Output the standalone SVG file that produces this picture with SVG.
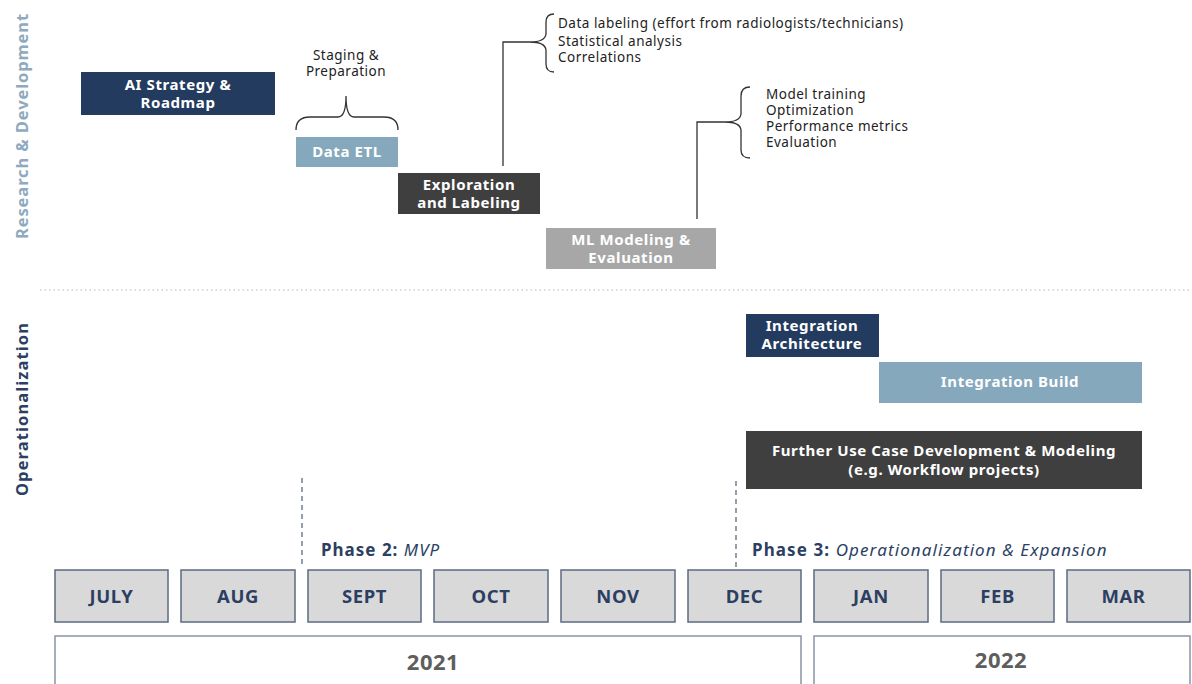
<svg xmlns="http://www.w3.org/2000/svg" width="1192" height="684" viewBox="0 0 1192 684">
<style>
.t{font-family:"Noto Sans","Open Sans",sans-serif}
.bw{font-family:"Noto Sans",sans-serif;font-weight:700;fill:#fff;font-size:15px;letter-spacing:0.6px;text-anchor:middle}
.note{font-family:"Noto Sans",sans-serif;font-size:13.5px;letter-spacing:0.5px;fill:#222}
.mon rect{fill:#d9d9d9;stroke:#5b6b82;stroke-width:1.5}
.mon text{font-family:"Noto Sans",sans-serif;font-weight:700;font-size:18.5px;letter-spacing:0.6px;fill:#2c3f63;text-anchor:middle}
.yr rect{fill:#fff;stroke:#8a94a3;stroke-width:1.5}
.yr text{font-family:"Noto Sans",sans-serif;font-weight:700;font-size:22px;letter-spacing:0.5px;fill:#5e5e5e;text-anchor:middle}
.navy{fill:#243b60}
.lblue{fill:#86a8bd}
.dgray{fill:#3f3f3f}
.mgray{fill:#a7a7a7}
.br{fill:none;stroke:#333;stroke-width:1.3}
</style>
<rect width="1192" height="684" fill="#fff"/>
<text class="t" transform="translate(28,126) rotate(-90)" text-anchor="middle" font-size="16.5" letter-spacing="0.9" font-weight="700" fill="#8fa9bf">Research &amp; Development</text>
<text class="t" transform="translate(28,409) rotate(-90)" text-anchor="middle" font-size="16.5" letter-spacing="1.1" font-weight="700" fill="#2c3f63">Operationalization</text>
<line x1="40" y1="290" x2="1192" y2="290" stroke="#b8b8b8" stroke-width="1.2" stroke-dasharray="1.5,3"/>
<g id="ai-strategy"><rect class="navy" x="81" y="72" width="194" height="43"/><text class="bw" x="178" y="90">AI Strategy &amp;</text><text class="bw" x="178" y="108">Roadmap</text></g>
<g id="staging"><text class="note" x="346" y="60" text-anchor="middle">Staging &amp;</text><text class="note" x="346" y="76" text-anchor="middle">Preparation</text></g>
<g id="data-etl"><rect class="lblue" x="296" y="137" width="102" height="30"/><text class="bw" x="347" y="157">Data ETL</text></g>
<g id="exploration"><rect class="dgray" x="398" y="173" width="142" height="41"/><text class="bw" x="469" y="190">Exploration</text><text class="bw" x="469" y="208">and Labeling</text></g>
<g id="ml-modeling"><rect class="mgray" x="546" y="228" width="170" height="41"/><text class="bw" x="631" y="245">ML Modeling &amp;</text><text class="bw" x="631" y="263">Evaluation</text></g>
<g id="expl-notes"><text class="note" x="558" y="28">Data labeling (effort from radiologists/technicians)</text><text class="note" x="558" y="46">Statistical analysis</text><text class="note" x="558" y="62">Correlations</text></g>
<g id="ml-notes"><text class="note" x="766" y="99">Model training</text><text class="note" x="766" y="115">Optimization</text><text class="note" x="766" y="131">Performance metrics</text><text class="note" x="766" y="147">Evaluation</text></g>
<g id="integration-arch"><rect class="navy" x="746" y="314" width="133" height="43"/><text class="bw" x="812" y="331">Integration</text><text class="bw" x="812" y="349">Architecture</text></g>
<g id="integration-build"><rect class="lblue" x="879" y="362" width="263" height="41"/><text class="bw" x="1010" y="387">Integration Build</text></g>
<g id="further-use"><rect class="dgray" x="746" y="431" width="396" height="58"/><text class="bw" x="944" y="456">Further Use Case Development &amp; Modeling</text><text class="bw" x="944" y="475">(e.g. Workflow projects)</text></g>
<g id="connectors">
<path class="br" d="M296,130 Q296,117 310,117 L338,117 Q346,117 346,96 Q346,117 354,117 L384,117 Q398,117 398,130"/>
<path class="br" d="M503,166 L503,42 L530,42 Q545,42 546,34 L546,22 Q546,14 554,14 M530,42 Q545,42 546,50 L546,64 Q546,72 554,72"/>
<path class="br" d="M697,219 L697,122 L725,122 Q740,122 741,114 L741,96 Q741,87 750,87 M725,122 Q740,122 741,130 L741,150 Q741,158 750,158"/>
<line x1="302" y1="478" x2="302" y2="566" stroke="#5b6b82" stroke-width="1.3" stroke-dasharray="5,4"/>
<line x1="736" y1="481" x2="736" y2="568" stroke="#5b6b82" stroke-width="1.3" stroke-dasharray="5,4"/>
</g>
<g id="phase2"><text class="t" x="321" y="556" font-size="17" letter-spacing="1" fill="#2c3f63"><tspan font-weight="700">Phase 2:</tspan> <tspan font-style="italic">MVP</tspan></text></g>
<g id="phase3"><text class="t" x="752" y="556" font-size="17" letter-spacing="1.1" fill="#2c3f63"><tspan font-weight="700">Phase 3:</tspan> <tspan font-style="italic">Operationalization &amp; Expansion</tspan></text></g>
<g class="mon">
<g id="m-jul"><rect x="55" y="570" width="113" height="52"/><text x="111.5" y="603">JULY</text></g>
<g id="m-aug"><rect x="181" y="570" width="114" height="52"/><text x="238" y="603">AUG</text></g>
<g id="m-sep"><rect x="308" y="570" width="113" height="52"/><text x="364.5" y="603">SEPT</text></g>
<g id="m-oct"><rect x="434" y="570" width="114" height="52"/><text x="491" y="603">OCT</text></g>
<g id="m-nov"><rect x="561" y="570" width="114" height="52"/><text x="618" y="603">NOV</text></g>
<g id="m-dec"><rect x="688" y="570" width="113" height="52"/><text x="744.5" y="603">DEC</text></g>
<g id="m-jan"><rect x="814" y="570" width="114" height="52"/><text x="871" y="603">JAN</text></g>
<g id="m-feb"><rect x="941" y="570" width="113" height="52"/><text x="997.5" y="603">FEB</text></g>
<g id="m-mar"><rect x="1067" y="570" width="123" height="52"/><text x="1123.5" y="603">MAR</text></g>
</g>
<g class="yr">
<g id="y2021"><rect x="55" y="636" width="746" height="60"/><text x="433" y="670">2021</text></g>
<g id="y2022"><rect x="814" y="636" width="376" height="60"/><text x="1001" y="668">2022</text></g>
</g>
</svg>
